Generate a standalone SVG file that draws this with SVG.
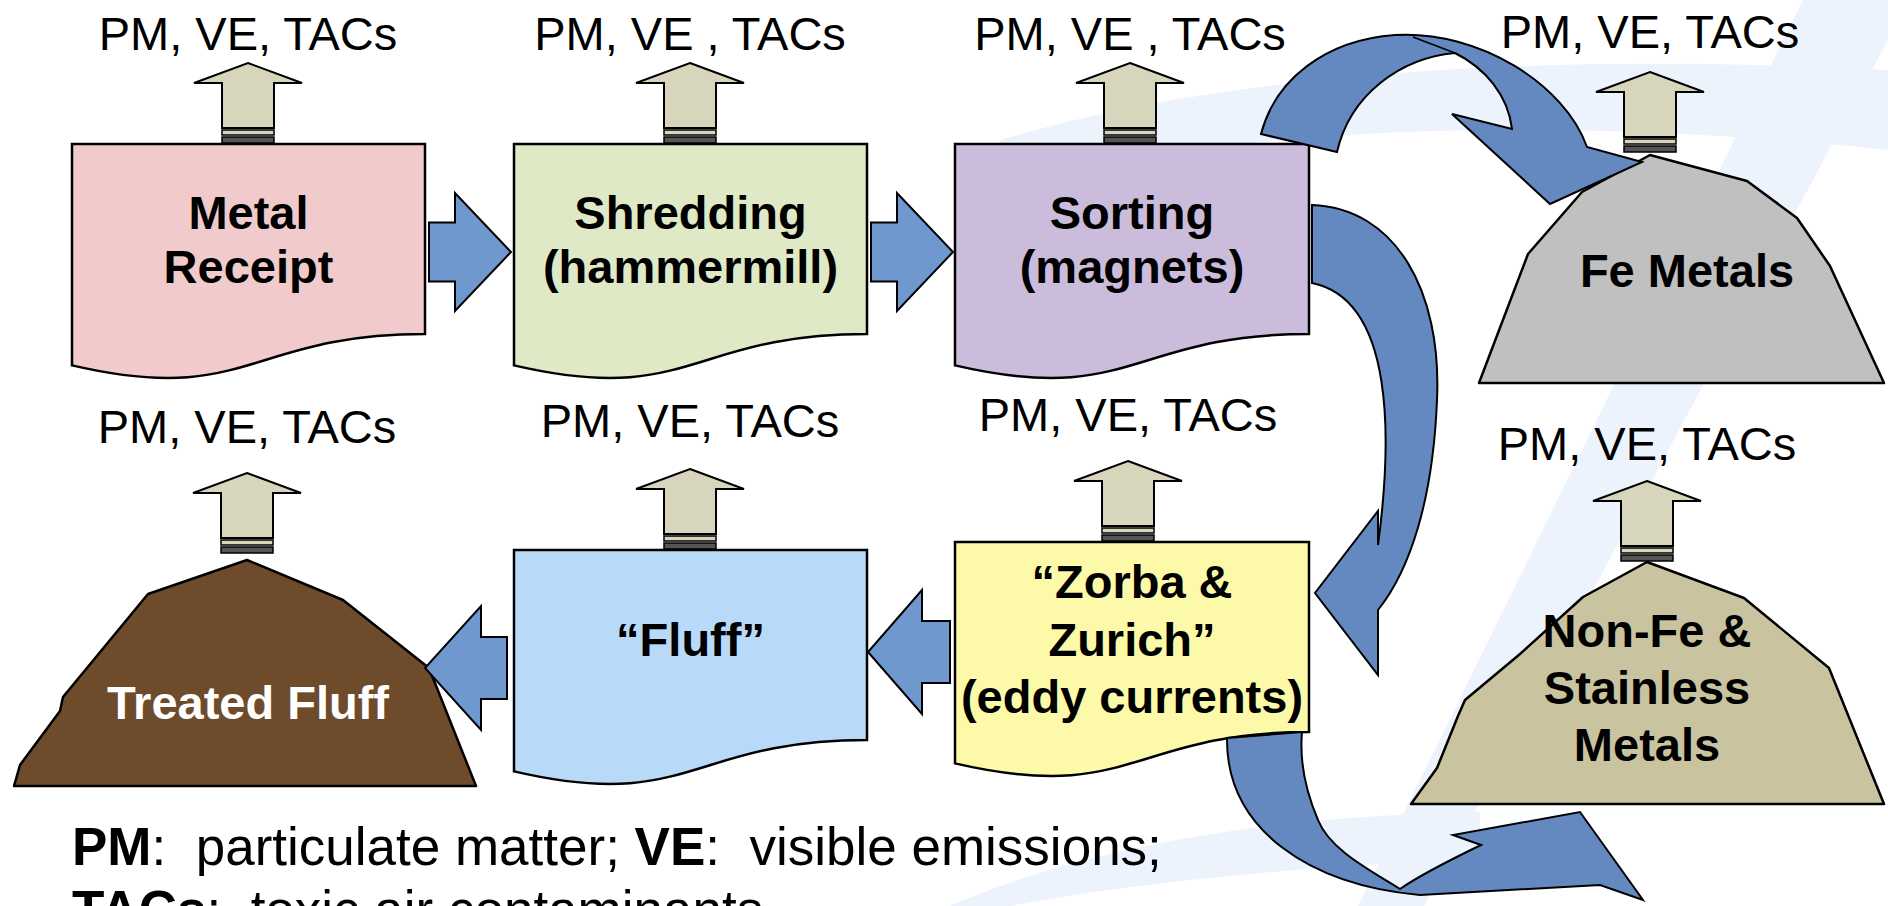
<svg xmlns="http://www.w3.org/2000/svg" width="1888" height="906" viewBox="0 0 1888 906">
<defs>
<style>
.doc{stroke:#000;stroke-width:2.5}
.pile{stroke:#000;stroke-width:2.5;stroke-linejoin:round}
.blk{fill:#6f98cf;stroke:#000;stroke-width:2;stroke-linejoin:miter}
.crv{fill:#6389c0;stroke:#000;stroke-width:2;stroke-linejoin:miter}
.up{fill:#d7d5bc;stroke:#000;stroke-width:2}
.ub1{fill:#d7d5bc;stroke:#000;stroke-width:1.5}
.ub2{fill:#555;stroke:#000;stroke-width:1.5}
.lbl{font-family:"Liberation Sans",Arial,sans-serif;font-size:47px;text-anchor:middle;fill:#000}
.nt{font-family:"Liberation Sans",Arial,sans-serif;font-size:47px;font-weight:bold;text-anchor:middle;fill:#000}
.leg{font-family:"Liberation Sans",Arial,sans-serif;font-size:53px;fill:#000;white-space:pre}
.bg{fill:#edf3fc}
</style>
</defs>
<rect width="1888" height="906" fill="#fff"/>
<g id="background">
<path class="bg" d="M1803,0 L1888,0 L1888,40 L1424,906 L1358,906 Z"/>
<path class="bg" d="M1000,140 C1200,80 1500,50 1888,70 L1888,150 C1550,115 1250,125 1000,185 Z"/>
<path class="bg" d="M950,906 C1100,840 1300,815 1480,812 L1480,860 C1300,865 1120,885 1010,906 Z"/>
</g>

<g id="node-metal-receipt">
<path class="doc" fill="#f1cbcb" d="M72,144 H425 V334 C248.5,334 248.5,406.5 72,365.4 Z"/>
<text class="nt" x="248.5" y="229">Metal</text>
<text class="nt" x="248.5" y="283">Receipt</text>
</g>
<g id="node-shredding">
<path class="doc" fill="#dfe9c6" d="M514,144 H867 V334 C690.5,334 690.5,406.5 514,365.4 Z"/>
<text class="nt" x="690.5" y="229">Shredding</text>
<text class="nt" x="690.5" y="283">(hammermill)</text>
</g>
<g id="node-sorting">
<path class="doc" fill="#cbbcdc" d="M955,144 H1309 V334 C1132,334 1132,406.5 955,365.4 Z"/>
<text class="nt" x="1132" y="229">Sorting</text>
<text class="nt" x="1132" y="283">(magnets)</text>
</g>
<g id="node-fluff">
<path class="doc" fill="#b9d9f9" d="M514,550 H867 V740 C690.5,740 690.5,812.5 514,771.4 Z"/>
<text class="nt" x="690.5" y="656">“Fluff”</text>
</g>
<g id="node-zorba-zurich">
<path class="doc" fill="#fcf9a8" d="M955,542 H1309 V732 C1132,732 1132,804.5 955,763.4 Z"/>
<text class="nt" x="1132" y="598">“Zorba &amp;</text>
<text class="nt" x="1132" y="656">Zurich”</text>
<text class="nt" x="1132" y="713">(eddy currents)</text>
</g>
<g id="node-fe-metals">
<path class="pile" fill="#c0c0c0" d="M1479,383 L1528,254 L1582,192 L1650,155 L1747,181 L1797,218 L1830,266 L1884,383 Z"/>
<text class="nt" x="1687" y="287">Fe Metals</text>
</g>
<g id="node-nonfe-metals">
<path class="pile" fill="#c9c39f" d="M1411,804 L1437,768 L1458,716 L1465,700 L1520,654 L1583,597 L1647,562 L1744,598 L1829,668 L1884,804 Z"/>
<text class="nt" x="1647" y="647">Non-Fe &amp;</text>
<text class="nt" x="1647" y="704">Stainless</text>
<text class="nt" x="1647" y="761">Metals</text>
</g>
<g id="node-treated-fluff">
<path class="pile" fill="#6e4b2b" d="M14,786 L20,765 L40,738 L60,711 L63,697 L148,594 L247,560 L343,600 L429,668 L476,786 Z"/>
<text class="nt" x="248" y="719" style="fill:#fff">Treated Fluff</text>
</g>

<g id="connectors">
<path class="blk" d="M429,222.5 H455 V193 L511,252 L455,311 V281.5 H429 Z"/>
<path class="blk" d="M871,222.5 H897 V193 L953,252 L897,311 V281.5 H871 Z"/>
<path class="blk" d="M950,621 H922 V590 L868,652 L922,714 V683 H950 Z"/>
<path class="blk" d="M507,637 H481 V606 L425,668 L481,730 V699 H507 Z"/>
<path class="crv" d="M1261,134 C1275,80 1325,40 1395,35 C1480,30 1565,85 1587,147 L1642,162 L1550,204 L1452,114 L1512,129 C1508,95 1485,68 1455,53 C1400,58 1350,95 1337,152 Z"/>
<path fill="none" stroke="#000" stroke-width="1.5" d="M1413,37 L1455,53"/>
<path class="crv" d="M1312,205 C1395,208 1442,290 1437,400 C1433,500 1410,570 1378,610 L1378,675 L1315,593 L1378,511 L1378,545 C1392,440 1395,300 1312,283 Z"/>
<path class="crv" d="M1227,738 C1226,830 1310,885 1420,895 L1600,885 L1643,900 L1580,812 L1453,835 L1481,845 C1450,860 1420,875 1400,889 C1370,870 1330,850 1318,820 C1303,785 1300,755 1302,732 Z"/>
</g>

<g id="emissions">
<g id="em1"><path class="up" d="M248,63 L302,83 L274,83 L274,128 L222,128 L222,83 L194,83 Z"/><rect class="ub1" x="222" y="130" width="52" height="5"/><rect class="ub2" x="222" y="137" width="52" height="6"/></g>
<g id="em2"><path class="up" d="M690,63 L744,83 L716,83 L716,128 L664,128 L664,83 L636,83 Z"/><rect class="ub1" x="664" y="130" width="52" height="5"/><rect class="ub2" x="664" y="137" width="52" height="6"/></g>
<g id="em3"><path class="up" d="M1130,63 L1184,83 L1156,83 L1156,128 L1104,128 L1104,83 L1076,83 Z"/><rect class="ub1" x="1104" y="130" width="52" height="5"/><rect class="ub2" x="1104" y="137" width="52" height="6"/></g>
<g id="em4"><path class="up" d="M1650,72 L1704,92 L1676,92 L1676,137 L1624,137 L1624,92 L1596,92 Z"/><rect class="ub1" x="1624" y="139" width="52" height="5"/><rect class="ub2" x="1624" y="146" width="52" height="6"/></g>
<g id="em5"><path class="up" d="M247,473 L301,493 L273,493 L273,538 L221,538 L221,493 L193,493 Z"/><rect class="ub1" x="221" y="540" width="52" height="5"/><rect class="ub2" x="221" y="547" width="52" height="6"/></g>
<g id="em6"><path class="up" d="M690,469 L744,489 L716,489 L716,534 L664,534 L664,489 L636,489 Z"/><rect class="ub1" x="664" y="536" width="52" height="5"/><rect class="ub2" x="664" y="543" width="52" height="6"/></g>
<g id="em7"><path class="up" d="M1128,461 L1182,481 L1154,481 L1154,526 L1102,526 L1102,481 L1074,481 Z"/><rect class="ub1" x="1102" y="528" width="52" height="5"/><rect class="ub2" x="1102" y="535" width="52" height="6"/></g>
<g id="em8"><path class="up" d="M1647,481 L1701,501 L1673,501 L1673,546 L1621,546 L1621,501 L1593,501 Z"/><rect class="ub1" x="1621" y="548" width="52" height="5"/><rect class="ub2" x="1621" y="555" width="52" height="6"/></g>
<text class="lbl" x="248" y="50">PM, VE, TACs</text>
<text class="lbl" x="690" y="50" xml:space="preserve">PM, VE , TACs</text>
<text class="lbl" x="1130" y="50" xml:space="preserve">PM, VE , TACs</text>
<text class="lbl" x="1650" y="48">PM, VE, TACs</text>
<text class="lbl" x="247" y="443">PM, VE, TACs</text>
<text class="lbl" x="690" y="437">PM, VE, TACs</text>
<text class="lbl" x="1128" y="431">PM, VE, TACs</text>
<text class="lbl" x="1647" y="460">PM, VE, TACs</text>
</g>

<g id="legend">
<text class="leg" x="72" y="865" xml:space="preserve"><tspan font-weight="bold">PM</tspan>:  particulate matter; <tspan font-weight="bold">VE</tspan>:  visible emissions;</text>
<text class="leg" x="72" y="928" xml:space="preserve"><tspan font-weight="bold">TACs</tspan>:  toxic air contaminants</text>
</g>
</svg>
